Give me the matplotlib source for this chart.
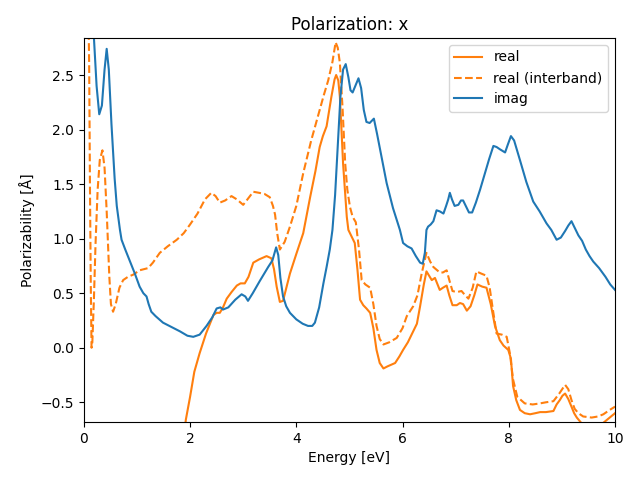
import numpy as np
import matplotlib
matplotlib.use("Agg")
import matplotlib.pyplot as plt

# values
imag_x = [0.05, 0.12, 0.19, 0.24, 0.29, 0.34, 0.39, 0.43, 0.47, 0.52, 0.58, 0.62, 0.68, 0.71, 0.78,
          0.87, 0.96, 1.05, 1.12, 1.18, 1.22, 1.27, 1.35, 1.49, 1.65, 1.81, 1.95, 2.06, 2.18, 2.31,
          2.42, 2.50, 2.57, 2.62, 2.72, 2.85, 2.97, 3.04, 3.09, 3.18, 3.31, 3.47, 3.55, 3.62, 3.66,
          3.70, 3.75, 3.81, 3.88, 4.0, 4.12, 4.22, 4.30, 4.35, 4.43, 4.51, 4.57, 4.63, 4.68, 4.73,
          4.78, 4.83, 4.88, 4.93, 4.98, 5.02, 5.06, 5.11, 5.17, 5.22, 5.27, 5.32, 5.38, 5.42, 5.46,
          5.52, 5.60, 5.70, 5.82, 5.95, 6.01, 6.09, 6.17, 6.25, 6.33, 6.38, 6.42, 6.45, 6.48, 6.53,
          6.58, 6.64, 6.70, 6.77, 6.82, 6.86, 6.89, 6.93, 6.98, 7.05, 7.10, 7.14, 7.19, 7.25, 7.31,
          7.38, 7.46, 7.55, 7.63, 7.71, 7.77, 7.83, 7.93, 7.98, 8.04, 8.10, 8.21, 8.33, 8.46, 8.58,
          8.71, 8.80, 8.90, 8.98, 9.06, 9.12, 9.18, 9.24, 9.31, 9.38, 9.45, 9.52, 9.59, 9.70, 9.82,
          9.91, 10.0]
imag_y = [3.6, 3.2, 2.84, 2.40, 2.14, 2.22, 2.55, 2.74, 2.55, 2.05, 1.55, 1.30, 1.08, 0.99, 0.90,
          0.79, 0.68, 0.56, 0.50, 0.47, 0.40, 0.33, 0.29, 0.23, 0.19, 0.15, 0.11, 0.10, 0.12, 0.20,
          0.28, 0.36, 0.37, 0.35, 0.37, 0.44, 0.49, 0.47, 0.43, 0.50, 0.61, 0.74, 0.80, 0.92, 0.85,
          0.64, 0.47, 0.38, 0.32, 0.26, 0.22, 0.20, 0.20, 0.23, 0.37, 0.59, 0.74, 0.90, 1.08, 1.40,
          1.85, 2.30, 2.55, 2.60, 2.48, 2.36, 2.34, 2.40, 2.47, 2.38, 2.18, 2.07, 2.06, 2.08, 2.10,
          1.96, 1.76, 1.51, 1.28, 1.08, 0.96, 0.93, 0.91, 0.84, 0.78, 0.77, 0.87, 1.08, 1.11, 1.13,
          1.16, 1.26, 1.25, 1.23, 1.30, 1.36, 1.42, 1.36, 1.30, 1.31, 1.35, 1.35, 1.30, 1.24, 1.24,
          1.33, 1.45, 1.60, 1.73, 1.85, 1.84, 1.82, 1.79, 1.86, 1.94, 1.90, 1.72, 1.52, 1.34, 1.25,
          1.14, 1.08, 0.99, 1.01, 1.07, 1.12, 1.16, 1.10, 1.03, 0.98, 0.90, 0.84, 0.79, 0.73, 0.65,
          0.58, 0.53]

real_x = [1.88, 1.92, 2.0, 2.08, 2.18, 2.30, 2.44, 2.50, 2.56, 2.62, 2.69, 2.78, 2.88, 2.95, 3.03,
          3.10, 3.19, 3.30, 3.44, 3.53, 3.58, 3.63, 3.69, 3.75, 3.88, 4.0, 4.13, 4.26, 4.36, 4.44,
          4.50, 4.57, 4.66, 4.72, 4.75, 4.79, 4.82, 4.85, 4.88, 4.95, 4.98, 5.04, 5.10, 5.15, 5.20,
          5.26, 5.32, 5.39, 5.45, 5.51, 5.57, 5.64, 5.72, 5.86, 5.94, 6.01, 6.10, 6.20, 6.27, 6.33,
          6.40, 6.45, 6.55, 6.61, 6.70, 6.76, 6.83, 6.88, 6.94, 7.02, 7.08, 7.14, 7.21, 7.28, 7.35,
          7.41, 7.50, 7.58, 7.66, 7.74, 7.83, 7.90, 7.99, 8.04, 8.08, 8.14, 8.21, 8.30, 8.40, 8.50,
          8.59, 8.70, 8.84, 8.90, 8.96, 9.01, 9.06, 9.12, 9.18, 9.23, 9.28, 9.40, 9.55, 9.70, 9.80,
          9.90, 10.0]
real_y = [-0.85, -0.66, -0.45, -0.22, -0.05, 0.13, 0.30, 0.32, 0.32, 0.37, 0.45, 0.51, 0.57, 0.59, 0.59,
          0.65, 0.78, 0.81, 0.84, 0.82, 0.72, 0.56, 0.42, 0.43, 0.68, 0.86, 1.05, 1.38, 1.62, 1.84,
          1.94, 2.03, 2.30, 2.46, 2.50, 2.45, 2.30, 2.00, 1.69, 1.20, 1.08, 1.02, 0.96, 0.72, 0.44,
          0.39, 0.36, 0.32, 0.18, -0.02, -0.14, -0.19, -0.17, -0.14, -0.08, -0.02, 0.05, 0.15, 0.22, 0.38,
          0.58, 0.70, 0.62, 0.64, 0.53, 0.55, 0.57, 0.48, 0.39, 0.39, 0.41, 0.40, 0.34, 0.38, 0.48,
          0.58, 0.56, 0.55, 0.40, 0.20, 0.07, 0.02, -0.02, -0.10, -0.35, -0.48, -0.57, -0.60, -0.61, -0.60,
          -0.59, -0.59, -0.58, -0.52, -0.48, -0.44, -0.42, -0.47, -0.54, -0.60, -0.64, -0.71, -0.74, -0.72, -0.68,
          -0.64, -0.60]

inter_x = [0.08, 0.10, 0.115, 0.13, 0.145, 0.16, 0.19, 0.22, 0.26, 0.30, 0.35, 0.39, 0.43, 0.48, 0.51,
           0.55, 0.60, 0.67, 0.74, 0.83, 0.93, 1.05, 1.21, 1.30, 1.43, 1.58, 1.75, 1.88, 2.0, 2.14,
           2.28, 2.40, 2.48, 2.56, 2.66, 2.78, 2.88, 3.0, 3.08, 3.19, 3.30, 3.40, 3.50, 3.56, 3.60,
           3.64, 3.69, 3.78, 3.88, 4.0, 4.13, 4.28, 4.44, 4.52, 4.60, 4.68, 4.74, 4.78, 4.82, 4.87,
           4.92, 4.96, 5.01, 5.06, 5.12, 5.18, 5.23, 5.30, 5.39, 5.45, 5.51, 5.57, 5.64, 5.75, 5.89,
           6.00, 6.08, 6.20, 6.28, 6.36, 6.45, 6.52, 6.58, 6.70, 6.76, 6.83, 6.88, 6.94, 7.02, 7.11,
           7.18, 7.24, 7.32, 7.39, 7.48, 7.58, 7.64, 7.70, 7.77, 7.87, 7.96, 8.02, 8.08, 8.16, 8.30,
           8.45, 8.59, 8.70, 8.84, 8.95, 9.06, 9.12, 9.18, 9.24, 9.31, 9.40, 9.56, 9.68, 9.78, 9.90,
           10.0]
inter_y = [3.3, 2.6, 1.5, 0.6, 0.0, 0.05, 0.45, 0.95, 1.45, 1.72, 1.81, 1.65, 1.25, 0.65, 0.40,
           0.33, 0.40, 0.55, 0.62, 0.65, 0.67, 0.71, 0.73, 0.78, 0.87, 0.93, 0.99, 1.05, 1.13, 1.23,
           1.36, 1.42, 1.39, 1.33, 1.35, 1.39, 1.36, 1.31, 1.36, 1.43, 1.42, 1.41, 1.38, 1.30, 1.22,
           1.05, 0.90, 0.97, 1.11, 1.30, 1.60, 1.90, 2.18, 2.32, 2.45, 2.62, 2.80, 2.75, 2.61, 2.20,
           1.69, 1.45, 1.29, 1.20, 1.15, 0.90, 0.62, 0.58, 0.55, 0.40, 0.20, 0.08, 0.03, 0.05, 0.09,
           0.18, 0.29, 0.38, 0.48, 0.68, 0.87, 0.79, 0.74, 0.69, 0.69, 0.71, 0.62, 0.52, 0.51, 0.52,
           0.48, 0.45, 0.55, 0.70, 0.68, 0.66, 0.55, 0.35, 0.13, 0.12, 0.10, -0.05, -0.29, -0.45, -0.51,
           -0.52, -0.51, -0.50, -0.49, -0.42, -0.34, -0.38, -0.48, -0.56, -0.60, -0.63, -0.64, -0.63, -0.61, -0.57,
           -0.54]

fig, ax = plt.subplots(figsize=(6.4, 4.8), dpi=100)
ax.plot(real_x, real_y, color='C1', label='real')
ax.plot(inter_x, inter_y, color='C1', linestyle='--', label='real (interband)')
ax.plot(imag_x, imag_y, color='C0', label='imag')
ax.set_xlim(0, 10)
ax.set_ylim(-0.68, 2.84)
ax.set_xlabel('Energy [eV]')
ax.set_ylabel('Polarizability [Å]')
ax.set_title('Polarization: x')
ax.legend(loc='upper right')
fig.subplots_adjust(left=0.131, right=0.961, top=0.921, bottom=0.121)
fig.savefig('out.png')
